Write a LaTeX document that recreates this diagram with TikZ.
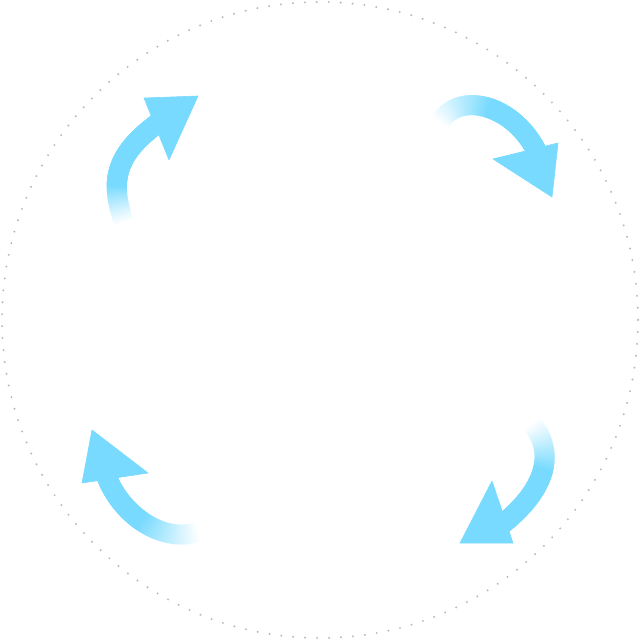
\documentclass[tikz,border=0pt]{standalone}
\definecolor{arrowblue}{RGB}{120,218,254}
\definecolor{dotgray}{RGB}{185,185,185}
\begin{document}
\begin{tikzpicture}[x=1pt,y=-1pt,
  shaft/.style={draw=arrowblue,line width=20pt,line cap=butt},
  arrowhead/.style={fill=arrowblue,draw=arrowblue,line width=0.6pt,line join=round},
  ring/.style={draw=dotgray,line width=2.2pt,line cap=round,dash pattern=on 0pt off 11.964pt}]
\useasboundingbox (0,0) rectangle (640,640);
\draw[ring] (320,320) circle[radius=318];
% shafts: cubic curve P0 (tail) .. P1 .. P2 .. P3 (head base), fade up to parameter tb
\foreach \ax/\ay/\bx/\by/\cx/\cy/\dx/\dy/\tb in {
  124/222/108/178/118/152/160/121.5/0.3,
  440/122/460/90/515/105/538/154/0.5,
  532/424/560/458/538/497/500/526/0.42,
  198/532/160/544/118/512/105/472/0.5} {
  \foreach \k in {1,...,30} {
    \pgfmathsetmacro\tp{\tb*(\k-1)/29}
    \pgfmathsetmacro\up{1-\tp}
    \pgfmathsetmacro\mex{\up*\bx+\tp*\cx}\pgfmathsetmacro\mey{\up*\by+\tp*\cy}
    \pgfmathsetmacro\mfx{\up*\cx+\tp*\dx}\pgfmathsetmacro\mfy{\up*\cy+\tp*\dy}
    \pgfmathsetmacro\mgx{\up*\ax+\tp*\bx}\pgfmathsetmacro\mgy{\up*\ay+\tp*\by}
    \pgfmathsetmacro\mhx{\up*\mex+\tp*\mfx}\pgfmathsetmacro\mhy{\up*\mey+\tp*\mfy}
    \pgfmathsetmacro\mix{\up*\mgx+\tp*\mex}\pgfmathsetmacro\miy{\up*\mgy+\tp*\mey}
    \pgfmathsetmacro\mjx{\up*\mix+\tp*\mhx}\pgfmathsetmacro\mjy{\up*\miy+\tp*\mhy}
    \pgfmathsetmacro\op{1/(31-\k)}
    \draw[shaft,draw opacity=\op] (\mjx,\mjy) .. controls (\mhx,\mhy) and (\mfx,\mfy) .. (\dx,\dy);
  }
}
% heads
\coordinate (t1) at (198,96);  \coordinate (b1a) at (144,98);  \coordinate (b1b) at (169,160);
\coordinate (t2) at (552,197); \coordinate (b2a) at (558,143); \coordinate (b2b) at (493,159);
\coordinate (t3) at (460,543); \coordinate (b3a) at (492,481); \coordinate (b3b) at (513,543);
\coordinate (t4) at (92,430);  \coordinate (b4a) at (82,483);  \coordinate (b4b) at (148,473);
\fill[arrowhead] (t1) -- (b1a) -- (b1b) -- cycle;
\fill[arrowhead] (t2) -- (b2a) -- (b2b) -- cycle;
\fill[arrowhead] (t3) -- (b3a) -- (b3b) -- cycle;
\fill[arrowhead] (t4) -- (b4a) -- (b4b) -- cycle;
\end{tikzpicture}
\end{document}
